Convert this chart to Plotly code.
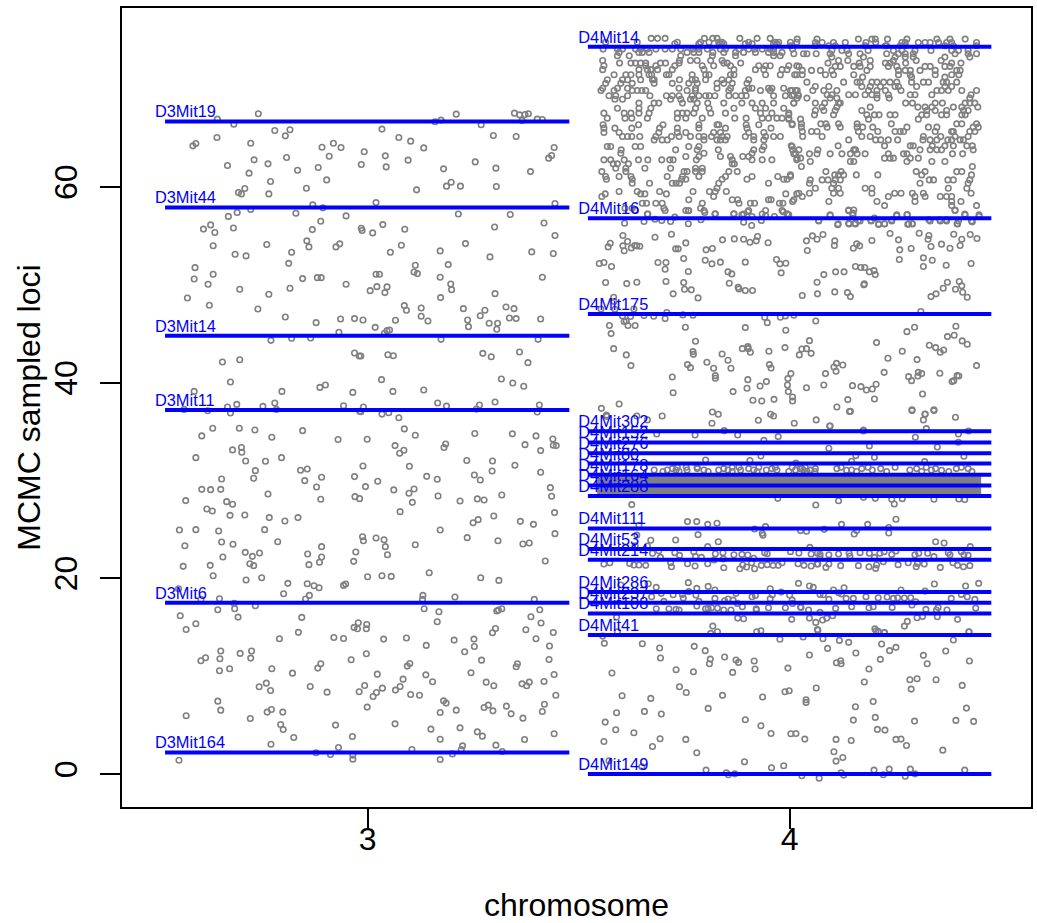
import plotly.graph_objects as go

chr3_markers = ["D3Mit164", "D3Mit6", "D3Mit11", "D3Mit14", "D3Mit44", "D3Mit19"]
chr3_marker_loci = [2.2, 17.5, 37.2, 44.8, 57.9, 66.7]
chr4_markers = ["D4Mit149", "D4Mit41", "D4Mit108", "D4Mit237", "D4Mit286", "D4Mit214", "D4Mit53", "D4Mit111",
                "D4Mit288", "D4Mit164", "D4Mit178", "D4Mit80", "D4Mit276", "D4Mit152", "D4Mit302", "D4Mit175",
                "D4Mit16", "D4Mit14"]
chr4_marker_loci = [0.0, 14.2, 16.4, 17.5, 18.6, 21.9, 23.0, 25.1, 28.42, 29.5, 30.6, 31.73, 32.8, 33.9, 35.04,
                    47.03, 56.8, 74.35]
chr3_span = [2.52, 3.478]
chr4_span = [3.522, 4.478]
label_start = {3: 2.496, 4: 3.499}
saturated_x = [3.544, 4.454]
saturated_y = [28.6, 30.45]

chr3_upper = [
(2.644,66.94),(2.741,67.49),(2.683,66.43),(2.780,65.78),(2.816,65.85),(2.805,65.23),(2.643,65.06),(2.593,64.45),(2.586,64.21),(2.723,64.48),
(2.892,64.07),(2.919,64.48),(2.937,64.04),(2.909,63.15),(2.808,63.02),(2.731,62.78),(2.668,62.2),(2.764,62.37),(2.883,62.0),(2.834,61.72),
(2.719,61.42),(2.770,60.56),(2.903,60.73),(2.855,59.88),(2.709,59.85),(2.694,59.44),(2.701,59.3),(2.766,59.3),(2.870,58.18),(2.894,57.87),
(2.723,57.7),(2.691,57.39),(2.830,57.32),(2.670,57.0),(2.949,57.05),(2.889,56.5),(2.628,56.13),(2.611,55.7),(2.682,55.82),(2.638,55.35),
(2.869,55.65),(2.856,54.5),(2.861,53.88),(2.934,54.19),(2.925,53.88),(2.634,54.0),(2.761,54.12),(2.820,53.33),(2.686,53.13),(2.712,52.96),
(2.813,52.2),(2.591,51.76),(2.634,51.08),(2.589,50.6),(2.622,50.06),(2.846,50.64),(2.881,50.74),(2.890,50.74),(2.949,50.06),(2.697,49.55),
(2.816,49.65),(2.766,49.04),(2.573,48.66),(2.625,47.91),(2.740,47.54),(2.805,46.72),(2.878,46.14),(2.936,46.51),(2.969,46.55),(2.932,45.15),
(2.771,44.33),(2.820,44.54),(2.865,44.57),(2.969,43.03),(2.980,42.73),(2.656,42.11),(2.697,42.35),(2.675,40.07),(2.797,39.11),(2.887,39.52),
(2.900,39.76),(2.589,39.11),(2.965,39.01),(2.668,37.51),(2.690,37.78),(2.752,37.58),(2.780,37.92),(2.943,37.65),(2.565,37.27),(2.621,37.14),
(2.675,36.9),(2.784,37.27),(2.981,37.07),
(3.210,67.45),(3.348,67.55),(3.360,67.38),(3.373,67.42),(3.381,67.49),(3.402,66.94),(3.414,66.9),(3.366,66.8),(3.160,66.67),(3.174,66.84),
(3.269,66.36),(3.034,65.92),(3.074,65.06),(3.102,64.69),(3.298,65.27),(3.352,65.17),(3.133,64.0),(3.442,64.04),(2.992,63.6),(3.042,63.19),
(3.436,63.22),(3.429,62.95),(3.096,62.75),(3.255,62.57),(2.985,62.3),(3.044,62.06),(3.180,61.86),(3.304,61.93),(3.386,61.58),(3.198,60.49),
(3.187,60.09),(3.220,60.09),(3.305,60.05),(3.116,59.71),(3.020,58.41),(3.444,58.31),(3.215,57.25),(3.338,57.19),(3.301,55.92),(3.418,56.33),
(3.036,56.16),(2.985,55.79),(2.987,55.55),(3.012,55.31),(3.088,55.69),(3.444,55.04),(3.080,54.05),(3.232,54.22),(3.054,53.33),(3.172,53.47),
(3.389,53.37),(3.440,53.2),(3.290,52.86),(3.191,52.07),(3.113,52.0),(3.110,51.32),(3.118,51.15),(3.020,51.08),(3.028,51.08),(3.172,50.78),
(3.414,50.78),(3.197,50.09),(3.199,49.51),(3.022,49.82),(3.046,49.79),(3.006,49.41),(3.041,49.21),(3.302,49.1),(3.173,48.7),(3.087,47.88),
(3.092,47.4),(3.127,47.64),(3.227,47.57),(3.328,47.74),(3.347,47.57),(3.278,47.4),(3.267,46.85),(3.127,46.79),(3.336,46.62),(3.352,46.55),
(3.410,46.51),(2.989,46.41),(3.066,46.38),(3.143,46.31),(3.237,46.41),(3.288,46.07),(3.308,46.07),(3.018,45.66),(3.239,45.73),(3.306,45.46),
(3.052,45.39),(3.046,45.32),(3.040,45.05),(3.174,44.43),(3.404,44.43),(2.984,42.73),(3.048,42.86),(3.061,42.76),(3.273,43.0),(3.293,42.66),
(3.360,43.14),(3.380,42.05),(3.033,40.31),(3.317,40.38),(3.344,39.97),(3.370,39.63),(3.060,39.11),(3.133,39.25),(3.166,37.92),(3.187,37.61),
(3.265,37.72),(3.302,38.02),(3.407,37.72),(2.990,37.51),(3.258,37.3),(2.984,37.03),(3.034,36.79),(3.050,36.93),(3.402,37.0),(3.074,36.42),
]
chr3_lower = [
(2.633,35.34),(2.696,35.34),(2.733,35.17),(2.846,35.1),(2.607,34.56),(2.773,34.42),(2.930,34.19),(2.999,34.22),(2.701,33.37),(2.680,33.13),
(2.702,32.89),(2.593,32.34),(2.796,32.34),(2.711,32.0),(2.758,31.97),(2.989,31.49),(2.734,31.01),(2.841,31.05),(2.857,31.18),(2.969,30.4),
(2.891,30.33),(2.654,30.16),(2.730,30.23),(2.851,29.99),(2.879,29.34),(2.995,29.38),(2.607,29.1),(2.628,29.07),(2.652,29.1),(2.764,28.63),
(2.970,28.35),(2.981,28.15),(2.889,28.08),(2.569,27.95),(2.666,27.84),(2.680,27.57),(2.619,27.09),(2.632,26.89),(2.674,26.44),(2.709,26.48),
(2.767,26.21),(2.804,25.86),(2.835,26.21),(2.554,24.94),(2.593,24.98),(2.647,24.84),(2.756,24.98),(2.988,24.26),(2.990,23.85),(2.787,23.75),
(2.654,23.72),(2.681,23.48),(2.567,23.34),(2.891,23.24),(2.972,22.69),(2.710,22.66),(2.744,22.59),(2.727,22.25),(2.657,22.18),(2.858,22.49),
(2.891,22.18),(2.886,21.64),(2.967,21.74),(2.721,21.5),(2.730,21.3),(2.627,21.33),(2.563,21.23),(2.861,21.4),(2.634,20.27),(2.749,20.07),
(3.000,20.17),(2.712,19.83),(2.811,19.49),(2.857,19.45),(2.873,19.25),(2.885,19.04),(2.948,19.42),(2.943,19.28),(2.552,18.94),(2.801,18.43),
(2.862,18.26),(2.853,17.89),(2.649,17.92),(2.605,17.85),(2.684,17.44),(2.734,17.2),(2.645,16.79),(2.685,16.9),(2.556,16.18),(2.693,16.04),
(2.844,16.01),(2.593,15.36),(2.978,15.46),(2.998,15.29),(2.968,14.99),(2.976,14.85),(2.997,14.85),(2.570,14.78),(2.836,14.48),(2.791,13.83),
(2.920,13.96),(2.943,13.86),(2.652,12.57),(2.725,12.57),(2.698,12.33),(2.997,12.29),(2.616,11.88),(2.723,11.85),(2.650,11.78),(2.605,11.58),
(2.961,11.68),(2.889,11.27),(2.882,10.83),(2.773,10.76),(2.673,10.76),(2.649,10.55),(2.822,10.31),(2.760,9.29),(2.743,8.92),(2.864,8.95),
(2.993,9.05),(2.770,8.54),(2.904,8.37),(2.980,8.41),(2.645,7.45),(2.999,6.84),(2.652,6.53),(2.772,6.6),(2.762,6.33),(2.799,6.33),
(2.570,5.95),(2.722,5.68),(2.794,5.06),(2.924,5.0),(2.800,4.55),(2.825,3.73),(2.964,3.84),(2.771,3.05),(2.931,2.71),(2.878,2.17),
(2.912,1.99),(2.965,1.93),(2.553,1.41),(2.965,1.52),
(3.087,35.28),(3.113,34.63),(3.254,34.8),(3.343,34.77),(3.399,34.56),(3.439,34.25),(3.065,33.57),(3.185,33.74),(3.181,33.37),(3.373,33.67),
(3.440,33.61),(3.447,33.57),(3.410,33.06),(3.086,33.09),(3.076,32.79),(3.235,32.04),(3.296,32.0),(3.099,31.46),(3.349,31.56),(3.295,30.98),
(3.410,30.84),(3.253,30.57),(3.140,30.43),(3.165,30.13),(3.267,30.06),(3.024,29.92),(3.433,29.27),(3.062,29.04),(3.110,29.14),(3.098,28.7),
(3.167,28.42),(3.318,28.52),(3.436,28.39),(3.260,28.12),(3.276,28.01),(3.219,27.91),(3.106,27.77),(3.077,26.82),(3.443,26.72),(3.299,26.38),
(3.362,25.83),(3.262,26.0),(3.250,25.69),(3.393,25.52),(3.172,24.94),(3.444,24.57),(3.236,24.16),(3.020,24.13),(3.039,23.95),(3.309,23.85),
(3.383,23.61),(3.368,23.51),(3.113,23.44),(3.042,23.24),(3.047,22.42),(3.421,21.77),(3.034,20.27),(3.056,20.2),(3.146,20.58),(3.268,20.07),
(3.311,19.79),(3.131,18.26),(3.130,17.85),(3.207,18.09),(3.395,17.85),(3.134,16.9),(3.169,16.59),(3.306,16.66),(3.310,16.76),(3.318,16.9),
(3.408,16.79),(3.387,16.08),(3.165,15.57),(3.411,15.43),(3.375,14.75),(3.303,14.88),(3.296,14.44),(3.440,14.47),(3.038,13.79),(3.092,13.9),
(3.205,13.69),(3.252,13.79),(3.399,13.83),(3.139,13.15),(3.253,13.04),(3.431,13.08),(3.230,12.5),(3.270,11.64),(3.430,11.71),(3.100,11.3),
(3.094,11.03),(3.355,11.27),(3.352,10.96),(3.245,10.35),(3.023,10.21),(3.442,10.18),(3.138,10.14),(3.084,9.7),(3.154,9.43),(3.281,9.39),
(3.418,9.46),(3.366,9.22),(3.383,9.39),(3.377,9.02),(3.299,9.02),(3.077,8.95),(3.035,8.78),(3.066,8.58),(3.021,8.34),(3.013,7.93),
(3.102,8.13),(3.123,8.06),(3.446,8.06),(3.180,7.48),(3.186,7.25),(3.419,7.14),(3.286,7.04),(3.329,6.94),(3.276,6.8),(3.210,6.53),
(3.297,6.46),(3.172,6.29),(3.414,6.39),(3.340,6.15),(3.368,5.71),(3.065,5.13),(3.219,4.72),(3.150,4.59),(3.260,4.31),(3.272,3.87),
(3.442,4.11),(3.172,3.56),(3.372,3.53),(3.225,2.88),(3.304,2.95),(3.222,2.5),(3.105,2.5),(3.319,2.3),(3.201,2.06),(3.172,1.48),
]
chr4_low = [
(3.561,13.36),(3.651,13.32),(3.692,12.88),(3.774,13.05),(3.800,12.61),(3.694,11.86),(3.812,11.75),(3.810,11.28),(3.846,11.96),(3.873,11.65),
(3.879,11.41),(3.916,11.55),(3.918,10.73),(3.996,10.83),(4.047,12.16),(4.090,12.84),(3.977,13.77),(4.032,14.0),(4.079,13.83),(4.118,13.66),
(4.140,13.46),(4.157,12.37),(4.111,11.38),(4.121,11.58),(4.122,11.28),(4.215,11.72),(4.218,13.29),(4.237,12.61),(4.252,12.95),(4.317,12.13),
(4.326,11.28),(4.370,12.57),(4.388,13.7),(4.426,11.55),(4.188,10.73),(3.579,10.32),(3.731,10.66),(3.772,10.46),(3.865,10.39),(4.177,9.4),
(4.285,9.64),(4.302,9.74),(4.347,9.64),(4.409,9.06),(4.288,8.68),(3.739,8.92),(3.755,8.34),(3.603,8.0),(3.671,7.73),(3.841,8.04),
(3.936,7.87),(3.989,8.41),(3.999,8.51),(4.063,8.79),(4.039,7.59),(4.039,7.32),(4.198,7.42),(4.156,6.88),(3.807,6.71),(3.590,6.26),
(3.656,6.4),(3.696,6.13),(4.419,6.74),(3.563,5.31),(3.895,5.55),(4.151,5.51),(4.203,5.79),(4.296,5.41),(4.394,5.48),(4.436,5.38),
(3.932,4.93),(3.588,4.52),(4.208,4.56),(4.226,4.49),(3.631,4.22),(3.956,4.15),(4.003,4.11),(4.015,4.15),(3.560,3.33),(3.693,3.6),
(3.754,3.54),(4.036,3.57),(4.110,3.54),(4.146,3.43),(4.252,3.54),(4.264,3.57),(4.277,2.92),(3.675,2.82),(4.363,2.44),(3.780,2.17),
(4.105,2.27),(4.126,1.69),(4.110,1.32),(3.893,1.25),(3.986,0.84),(3.957,0.64),(3.650,0.74),(3.572,1.35),(3.802,0.4),(4.200,0.4),
(4.236,0.5),(4.286,0.5),(4.415,0.4),(3.850,0.13),(3.855,-0.08),(3.870,0.02),(4.122,0.13),(4.128,-0.11),(4.222,-0.08),(4.274,-0.22),
(4.297,0.02),(4.029,-0.18),(4.070,-0.42),(3.557,14.1),(3.813,14.38),(3.829,14.55),(3.922,14.55),(3.932,14.65),(4.067,14.69),(4.205,14.65),
(4.225,14.45),(4.425,14.52),(3.592,14.55),
]
chr4_mid_left = [
(3.626,27.54),(4.062,27.5),(3.758,25.8),(3.780,25.8),(3.806,25.52),(3.828,25.63),(3.643,25.42),(3.917,25.05),(3.943,25.29),(4.026,24.88),
(4.040,24.81),(3.783,24.47),(3.638,24.43),(3.935,24.6),(3.937,24.4),(3.730,23.92),(3.671,23.89),(3.831,23.75),(3.663,23.31),(3.806,23.24),
(4.048,23.17),(3.634,23.34),(3.690,22.83),(3.728,22.63),(3.773,22.73),(3.941,22.63),(4.002,22.73),(4.022,22.59),(4.051,22.49),(3.675,22.56),
(3.739,22.35),(3.824,22.52),(3.842,22.63),(3.868,22.42),(3.887,22.45),(3.901,22.39),(3.947,22.52),(4.066,22.56),(3.694,22.15),(3.777,22.22),
(3.791,22.15),(3.821,21.88),(3.843,21.98),(3.915,22.05),(3.560,21.47),(3.574,21.6),(3.621,21.53),(3.631,21.36),(3.643,21.36),(3.659,21.33),
(3.718,21.6),(3.720,21.19),(3.758,21.5),(3.776,21.26),(3.806,21.5),(3.844,21.09),(3.882,20.99),(3.889,21.36),(3.898,21.16),(3.910,21.6),
(3.917,20.99),(3.933,21.33),(3.947,21.4),(3.961,21.33),(3.973,21.33),(3.982,21.6),(4.020,21.5),(4.034,21.33),(4.051,21.26),(4.065,21.47),
(3.600,19.32),(3.665,19.45),(3.760,19.56),(3.684,19.08),(3.807,19.18),(3.780,18.98),(3.954,18.94),(4.021,19.49),(4.047,19.22),(4.056,19.08),
(3.761,18.64),(3.823,18.81),(3.980,18.6),(3.696,18.47),(3.724,18.33),(3.673,18.12),(3.746,18.36),(3.778,18.3),(3.873,18.47),(3.911,18.12),
(3.919,18.26),(3.959,18.33),(4.0,18.3),(3.748,17.99),(3.823,17.95),(3.854,17.89),(3.866,17.78),(3.954,17.92),(4.006,17.78),(3.702,17.65),
(3.785,17.65),(3.846,17.71),(3.876,17.44),(4.007,17.44),(3.888,17.1),(3.780,17.17),(3.684,16.9),(3.714,16.9),(3.731,16.83),(3.738,16.76),
(3.801,16.9),(3.807,16.93),(3.815,17.0),(3.829,16.96),(3.844,16.76),(3.861,16.76),(3.921,16.9),(3.921,16.76),(3.950,17.0),(3.990,17.0),
(4.026,17.07),(4.045,16.76),(3.590,16.04),(3.877,15.94),(3.891,15.87),(4.005,15.81),(4.047,15.94),(4.062,15.5),(3.818,15.12),(4.066,14.78),
(3.801,32.1),(3.906,32.04),(3.932,32.5),(4.015,31.78),(3.972,28.18),(3.816,35.86),(3.926,36.16),(4.011,35.86),(4.063,36.2),(3.685,34.76),
(3.776,34.66),(3.877,34.66),(3.973,34.49),(3.845,35.1),(3.939,34.1),(3.955,36.78),(3.962,36.6),(3.698,36.6),(3.638,36.6),(3.663,36.2),
(3.566,36.7),(3.817,37.0),(3.831,36.78),
]
chr4_mid_right = [
(4.095,35.58),(4.142,37.05),(4.290,37.15),(4.321,36.78),(4.317,36.2),(4.342,37.15),(4.393,36.47),(4.175,35.07),(4.324,35.31),(4.424,35.07),
(4.400,34.76),(4.298,34.42),(4.400,33.91),(4.189,33.54),(4.350,33.43),(4.093,33.3),(4.157,32.55),(4.201,32.38),(4.413,32.48),(4.147,31.97),
(4.320,31.93),(4.116,27.94),(4.203,28.18),(4.242,28.08),(4.248,27.6),(4.267,28.15),(4.342,28.08),(4.401,28.11),(4.415,28.05),(4.175,28.29),
(4.252,26.04),(4.123,25.52),(4.185,25.52),(4.235,24.64),(4.153,24.53),(4.159,24.88),(4.082,25.01),(4.235,25.2),(4.346,23.75),(4.366,23.61),
(4.428,23.24),(4.072,22.49),(4.093,22.42),(4.116,22.49),(4.141,22.56),(4.167,22.63),(4.143,22.28),(4.189,22.56),(4.214,22.56),(4.224,22.73),
(4.242,22.45),(4.252,22.8),(4.297,22.42),(4.306,22.56),(4.327,22.56),(4.342,22.22),(4.376,22.63),(4.380,22.42),(4.407,22.73),(4.413,22.42),
(4.423,22.35),(4.072,22.28),(4.201,22.15),(4.222,21.7),(4.067,21.47),(4.093,21.47),(4.086,21.12),(4.121,21.3),(4.163,21.3),(4.188,21.19),
(4.204,21.02),(4.206,21.36),(4.257,21.4),(4.281,21.6),(4.300,21.19),(4.303,21.53),(4.319,21.47),(4.357,21.12),(4.387,21.6),(4.398,21.33),
(4.412,21.19),(4.427,21.3),(4.104,18.81),(4.129,19.04),(4.264,18.81),(4.321,18.7),(4.343,19.42),(4.417,19.22),(4.448,19.49),(4.072,18.36),
(4.080,18.33),(4.116,18.53),(4.123,18.4),(4.407,18.36),(4.093,17.85),(4.134,17.95),(4.151,17.95),(4.181,18.12),(4.210,18.02),(4.231,18.09),
(4.246,17.95),(4.256,18.02),(4.272,17.99),(4.287,18.02),(4.299,17.61),(4.383,17.95),(4.421,18.12),(4.439,17.85),(4.027,17.03),(4.109,16.93),
(4.147,17.1),(4.188,17.0),(4.198,17.1),(4.243,17.03),(4.290,17.27),(4.323,16.83),(4.352,17.03),(4.348,16.76),(4.373,16.76),(4.441,16.96),
(4.072,16.52),(4.078,15.74),(4.088,15.94),(4.102,16.18),(4.302,15.98),(4.315,16.11),(4.350,16.08),(4.398,15.81),(4.279,15.6),(4.272,15.12),
(4.202,14.85),(4.210,14.58),(4.224,14.44),(4.425,14.54),
]
chr4_upper_mid = [
(3.664,57.23),(3.705,57.6),(3.760,57.57),(3.799,57.4),(3.824,57.26),(3.868,57.26),(3.887,57.16),(3.901,57.47),(3.911,56.99),(3.943,57.09),
(3.964,56.99),(3.985,57.47),(3.995,57.23),(4.096,57.09),(4.140,57.57),(4.150,57.33),(4.201,56.82),(4.254,57.06),(4.279,57.19),(4.392,57.6),
(4.415,57.23),(4.449,56.99),(3.609,56.3),(3.655,56.48),(3.681,56.71),(3.697,56.58),(3.718,56.48),(3.728,56.92),(3.760,56.24),(3.790,56.65),
(3.891,56.41),(3.910,56.07),(3.933,56.58),(4.069,56.58),(4.114,56.14),(4.140,56.3),(4.155,56.3),(4.163,56.58),(4.193,56.58),(4.211,56.17),
(4.225,56.24),(4.242,56.65),(4.280,56.2),(4.290,56.24),(4.330,56.65),(4.356,56.65),(4.371,56.65),(4.397,56.24),(4.433,56.44),(3.605,55.04),
(3.681,54.87),(3.720,55.18),(3.841,54.6),(3.869,54.7),(3.891,54.67),(3.906,54.36),(3.921,54.5),(3.924,54.94),(3.949,54.3),(4.040,54.5),
(4.054,55.01),(4.065,54.67),(4.079,55.15),(4.107,54.5),(4.195,54.53),(4.238,55.25),(4.258,54.6),(4.307,55.28),(4.330,55.04),(4.328,54.67),
(4.389,55.18),(4.408,54.67),(4.428,55.15),(4.444,54.74),(3.575,54.26),(3.570,53.88),(3.616,54.43),(3.605,53.99),(3.608,53.48),(3.625,53.78),
(3.633,54.02),(3.645,53.95),(3.638,53.99),(3.754,54.29),(3.730,53.68),(3.736,53.68),(3.802,53.58),(3.817,53.71),(4.042,53.51),(4.106,54.02),
(4.151,53.75),(4.159,54.19),(4.166,53.99),(4.288,53.71),(4.261,53.58),(4.335,53.92),(4.360,54.16),(4.380,53.75),(4.404,54.02),(3.749,52.69),
(3.800,52.52),(3.816,52.15),(3.836,52.32),(3.895,52.32),(3.969,52.59),(3.977,52.15),(3.991,52.21),(4.260,52.59),(4.317,52.76),(4.338,52.52),
(4.317,51.87),(4.371,52.01),(4.430,52.18),(3.549,52.18),(3.560,52.28),(3.578,51.87),(3.688,52.28),(3.707,52.28),(3.705,51.6),(3.760,51.36),
(3.854,51.33),(3.863,51.12),(3.980,51.23),(4.081,51.05),(4.109,51.33),(4.129,51.33),(4.156,51.87),(4.169,51.77),(4.178,51.77),(4.189,51.33),
(4.200,51.46),(4.203,51.05),(3.564,50.24),(3.614,50.13),(3.638,50.27),(3.707,50.34),(3.749,50.24),(3.857,50.17),(4.065,50.27),(4.177,50.1),
(4.176,50.0),(4.402,50.34),(4.408,49.9),(4.374,50.27),(3.751,49.55),(3.767,49.49),(3.878,49.76),(3.880,49.59),(3.895,49.42),(3.912,49.42),
(4.364,49.66),(4.393,49.55),(4.410,49.25),(4.107,49.28),(4.137,49.21),(4.144,48.8),(4.066,49.08),(4.030,48.91),(3.724,49.08),(4.347,49.08),
(4.335,48.8),(4.421,48.74),(3.783,48.67),(3.583,48.74),(3.584,48.3),(3.631,47.54),(3.553,47.54),(3.586,47.51),(4.311,47.27),(3.709,47.17),
(3.604,46.83),(3.623,46.76),(3.655,46.86),(3.678,46.79),(3.705,46.55),(3.747,46.93),(3.771,46.89),(3.941,46.69),(3.978,46.69),(3.990,46.83),
(4.010,46.89),(3.608,46.25),(3.613,46.31),(4.062,46.31),(3.947,46.14),(3.573,45.84),(3.617,45.84),(3.634,45.84),(3.753,45.67),(3.895,45.63),
(3.991,45.36),(3.577,45.02),(4.296,45.67),(4.278,45.22),(4.394,45.77),(4.390,44.85),(4.374,44.71),(4.409,44.27),(4.421,43.93),(4.047,44.3),
(3.777,44.23),(4.206,44.1),(4.331,43.83),(4.346,43.59),(4.365,43.35),(4.357,43.11),(3.583,43.48),(3.613,42.84),(3.771,43.18),(3.772,42.9),
(3.888,43.48),(3.901,43.69),(3.902,43.48),(3.907,43.11),(3.951,43.21),(3.989,43.59),(4.029,43.45),(4.040,43.48),(4.051,43.0),(4.023,42.84),
(3.840,42.94),(3.854,42.29),(4.267,43.21),(4.233,42.5),(4.302,42.36),(3.804,42.09),(3.624,41.75),(3.758,41.85),(3.765,41.54),(3.820,41.47),
(3.861,41.47),(3.952,41.85),(3.956,41.51),(4.111,41.98),(4.105,41.61),(4.126,41.81),(4.110,41.17),(4.443,41.75),(4.224,41.06),(4.085,40.93),
(4.003,40.93),(4.305,41.06),(4.313,40.93),(4.356,40.96),(3.722,40.59),(3.824,40.72),(3.824,40.45),(3.996,40.42),(4.282,40.62),(4.304,40.69),
(4.289,40.21),(4.397,40.72),(4.401,40.69),(4.385,40.11),(4.389,40.21),(3.901,40.31),(3.945,40.11),(3.930,39.67),(3.995,39.77),(3.899,39.43),
(4.040,39.49),(4.081,39.77),(4.149,39.7),(4.169,39.6),(4.205,39.84),(4.196,39.36),(4.182,39.26),(3.997,39.09),(3.866,39.09),(3.724,38.98),
(4.315,38.85),(4.007,38.54),(4.007,38.13),(3.963,38.3),(3.913,38.2),(3.934,38.13),(4.138,38.27),(4.201,38.34),(3.596,37.82),(3.554,37.38),
(4.112,37.52),(4.144,37.07),(4.290,37.24),(4.342,37.24),(4.321,36.8),(3.567,36.56),(4.096,35.57),(4.175,35.17),
]
chr4_near_band = [
(31.08,[3.679,3.710,3.731,3.757,3.797,3.832,3.854,3.884,3.915,3.945,3.970,4.014,4.049,4.147,4.196,4.285,4.336]),
(30.92,[3.700,3.738,3.807,3.864,3.923,3.998,4.041,4.060,4.159,4.230,4.313,4.377,4.432]),
(31.22,[3.722,3.781,3.844,3.903,3.958,4.029,4.061,4.025,4.112,4.171,4.216,4.301,4.346,4.395,4.423]),
(31.35,[3.734,3.755,3.781,3.864,3.880,3.927,3.966,4.006,4.037,4.122,4.186,4.250,4.324,4.407]),
(31.05,[4.033,4.049,4.135,4.360]),
]
chr4_top_left = [
(75.2,[3.672,3.687,3.705,3.798,3.818,3.828,3.923,3.882,3.954]),
(74.8,[3.564,3.639,3.734,3.789,3.809,3.832,3.840,3.903,3.966,3.974,4.002,4.017]),
(74.65,[3.728,3.785,3.836,3.844,3.895,3.911,3.962,3.970]),
(74.1,[3.558,3.592,3.604,3.635,3.647,3.663,3.683,3.705,3.722,3.742,3.771,3.785,3.805,3.836,3.848,3.880,3.903,3.917,3.935,3.954,3.962,4.007]),
(73.76,[3.596,3.643,3.651,3.667,3.757,3.773,3.785,3.818,3.844,3.872,3.891,3.919,3.950,3.962,3.982]),
(73.42,[3.592,3.620,3.742,3.817,3.872,3.962,3.978]),
(72.94,[3.557,3.739,3.765,3.781,3.813,3.840]),
(72.67,[3.597,3.624,3.635,3.647,3.659,3.694,3.706,3.738,3.844,3.884,3.852]),
(72.4,[3.560,3.659,3.683,3.728,3.793,3.820,3.860,3.927,3.943,3.954,3.998,4.017]),
(72.0,[3.557,3.643,3.663,3.671,3.687,3.722,3.797,3.868,3.919,3.939,3.994,3.982]),
(71.47,[3.584,3.612,3.624,3.643,3.667,3.673,3.708,3.714,3.769,3.801,3.809,3.860,3.868,3.943,3.978,4.017]),
(70.96,[3.568,3.604,3.616,3.647,3.675,3.679,3.739,3.801,3.840,3.856,3.903,3.769,3.777]),
(70.6,[3.564,3.600,3.627,3.679,3.722,3.761,3.781,3.828,3.844,3.864,3.899]),
(70.1,[3.557,3.592,3.616,3.738,3.777,3.828,3.860,3.903,3.911,3.986,3.950,3.958]),
(69.87,[3.553,3.584,3.627,3.639,3.650,3.659,3.757,3.777,3.856,3.895,3.931,3.954,4.002,4.014]),
(69.33,[3.572,3.588,3.616,3.669,3.708,3.722,3.738,3.769,3.785,3.801,3.810,3.823,3.856,3.872,3.886,3.897,3.962,3.990,4.006,4.021]),
(68.98,[3.586,3.604,3.718,3.742,3.765,3.773]),
(68.58,[3.643,3.690,3.679,3.746,3.781,3.806,3.844,3.887,3.911,3.935,3.962,4.010]),
(68.06,[3.592,3.643,3.671,3.777,3.809,3.868,3.919,3.943,3.986]),
(67.55,[3.560,3.608,3.624,3.643,3.667,3.734,3.746,3.757,3.773,3.813,3.848,3.931,3.998,3.958]),
(67.04,[3.568,3.610,3.626,3.663,3.734,3.754,3.793,3.870,3.897,3.935,3.950,3.970,3.982,3.998]),
(66.36,[3.558,3.642,3.700,3.785,3.828,3.832,3.927,3.897,4.006]),
(66.02,[3.560,3.586,3.626,3.692,3.734,3.785,3.899,3.956,3.848]),
(65.57,[3.560,3.596,3.690,3.734,3.754,3.820,3.836,3.903,3.939]),
(65.17,[3.604,3.616,3.626,3.645,3.683,3.720,3.738,3.765,3.785,3.797,3.815,3.840,3.852,3.895,3.915,3.943,3.962,3.978]),
(64.82,[3.679,3.698,3.710,3.797,3.836,3.915,3.939,3.848,3.828]),
(64.14,[3.568,3.576,3.634,3.647,3.761,3.785,4.006,3.939]),
(63.8,[3.601,3.730,3.781,3.831,3.935,3.915,4.007]),
(63.46,[3.600,3.797,3.911,4.014]),
(63.12,[3.785,3.754,3.860,3.889,3.903,3.836]),
(62.78,[3.560,3.576,3.608,3.642,3.664,3.697,3.716,3.724,3.779,3.935,3.958,4.017,3.911,3.864]),
(62.37,[3.582,3.592,3.618,3.864,3.869]),
(61.92,[3.588,3.612,3.657,3.777,3.793,3.718]),
(61.58,[3.555,3.750,3.757,3.777,3.793,3.612,3.876,3.856]),
(61.07,[3.564,3.596,3.624,3.710,3.746,3.785,3.848,3.911,3.972,4.002]),
(60.8,[3.566,3.627,3.744,3.754,3.840,3.899,3.994,3.986]),
(60.39,[3.627,3.668,3.722,3.731,3.739,3.832,3.950]),
(59.88,[3.828]),
(59.54,[3.596,3.639,3.692,3.771,3.810,3.824,3.850]),
(59.3,[3.563,3.647,3.657,3.708,3.991,4.017]),
(59.03,[3.555,3.820]),
(58.7,[3.761,3.864,3.950,3.956,4.010,3.877]),
(58.34,[3.651,3.661,3.683,3.698,3.793,3.880,3.907,3.917,3.976,3.984]),
(57.83,[3.610,3.627,3.702,3.789]),
(57.6,[3.635,3.754,3.761,3.797,3.903,3.943,3.982]),
(57.25,[3.663,3.823,3.868,3.891,3.935,3.994]),
]
chr4_top_right = [
(75.12,[4.018,4.065,4.163,4.195,4.203,4.232,4.278,4.349,4.380,4.416]),
(74.78,[4.061,4.077,4.104,4.132,4.181,4.204,4.266,4.274,4.305,4.321,4.333,4.353,4.372,4.384,4.443]),
(74.44,[4.002,4.061,4.093,4.108,4.179,4.230,4.227,4.262,4.274,4.368,4.388,4.443]),
(73.96,[4.100,4.124,4.136,4.186,4.246,4.266,4.297,4.335,4.384,4.400,4.423]),
(73.62,[4.010,4.033,4.041,4.063,4.096,4.140,4.167,4.230,4.258,4.274,4.293,4.392,4.443,4.423]),
(73.28,[4.100,4.175,4.250,4.293,4.274,4.368,4.427]),
(72.94,[4.116,4.138,4.191,4.246,4.300,4.359]),
(72.67,[4.091,4.165,4.227,4.238,4.275,4.384,4.406]),
(72.33,[4.022,4.108,4.120,4.152,4.167,4.191,4.234,4.254,4.321,4.333,4.380,4.368]),
(71.92,[4.030,4.052,4.073,4.100,4.183,4.258,4.274,4.286,4.309,4.345,4.396,4.404]),
(71.47,[4.012,4.030,4.085,4.104,4.152,4.258,4.286,4.345,4.384,4.401]),
(71.23,[4.173,4.289,4.368]),
(70.72,[4.041,4.128,4.160,4.167,4.195,4.207,4.223,4.238,4.254,4.289,4.317,4.329,4.364,4.372,4.396]),
(70.28,[4.061,4.093,4.171,4.191,4.215,4.250,4.258,4.301,4.368,4.384]),
(69.87,[4.006,4.018,4.055,4.081,4.112,4.187,4.207,4.227,4.264,4.349,4.360,4.408,4.443,4.376]),
(69.43,[4.010,4.020,4.089,4.100,4.140,4.156,4.179,4.195,4.207,4.234,4.286,4.297,4.337,4.430]),
(69.09,[4.018,4.041,4.096,4.112,4.207,4.236,4.427]),
(68.58,[4.010,4.061,4.083,4.116,4.120,4.275,4.291,4.345,4.362,4.416,4.427,4.439]),
(68.17,[4.077,4.112,4.191,4.304,4.321,4.337,4.388,4.408,4.446]),
(67.82,[4.061,4.081,4.108,4.171,4.325,4.345,4.372,4.412,4.423]),
(67.38,[3.998,4.059,4.104,4.183,4.201,4.212,4.238,4.250,4.313,4.325,4.360,4.372,4.408,4.416]),
(66.94,[3.998,4.026,4.187,4.305]),
(66.46,[4.006,4.028,4.074,4.086,4.116,4.160,4.241,4.396,4.408,4.443]),
(66.12,[4.028,4.089,4.120,4.160,4.173,4.197,4.278,4.329,4.349,4.435,4.447]),
(65.68,[4.030,4.052,4.065,4.163,4.209,4.250,4.262,4.270,4.345,4.384,4.388,4.427,4.439]),
(65.17,[4.031,4.077,4.191,4.171,4.317,4.358,4.392,4.423]),
(64.82,[4.140,4.204,4.216,4.234,4.256,4.316,4.333,4.349,4.375,4.384,4.404,4.412]),
(64.21,[4.004,4.115,4.225,4.286,4.293,4.338,4.368,4.388,4.420,4.433]),
(63.8,[4.022,4.067,4.152,4.156,4.309,4.333,4.349,4.360,4.435]),
(63.39,[4.010,4.047,4.065,4.096,4.124,4.144,4.160,4.179,4.234,4.278,4.270,4.386,4.410]),
(62.95,[4.018,4.026,4.225,4.238,4.246,4.286,4.305]),
(62.61,[4.049,4.144,4.152,4.278,4.337,4.368]),
(62.1,[4.028,4.433]),
(61.58,[4.086,4.122,4.300,4.321,4.408,4.396]),
(61.24,[4.002,4.116,4.128,4.107,4.158,4.209,4.313,4.431]),
(60.73,[4.049,4.077,4.091,4.120,4.341,4.331,4.427,4.375,4.388,4.108]),
(60.39,[4.047,4.104,4.309,4.423]),
(59.88,[4.061,4.100,4.116,4.179,4.195,4.376,4.420]),
(59.37,[4.022,4.047,4.104,4.120,4.249,4.264,4.291,4.317,4.430,4.195]),
(59.03,[4.030,4.234,4.297,4.321,4.357,4.372,4.384]),
(58.52,[4.007,4.093,4.207,4.297,4.406,4.384]),
(58.1,[4.225,4.384,4.443]),
(57.66,[4.140,4.152,4.392]),
(57.15,[3.998,4.096,4.150,4.254,4.278,4.416,4.449]),
(56.54,[4.069,4.167,4.193,4.242,4.333,4.357,4.372,4.400,4.431]),
(56.23,[4.115,4.141,4.156,4.211,4.225,4.282,4.291,4.398]),
]

pairs = chr3_upper + chr3_lower + chr4_low + chr4_mid_left + chr4_mid_right + chr4_upper_mid
for rows in (chr4_near_band, chr4_top_left, chr4_top_right):
    for locus, xs in rows:
        pairs += [(x, locus) for x in xs]
point_x = [p[0] for p in pairs]
point_y = [p[1] for p in pairs]

GRAY = "#808080"
BLUE = "#0000FF"
FONT = "Liberation Sans, Arial, sans-serif"

fig = go.Figure()
fig.add_trace(go.Scatter(x=point_x, y=point_y, mode="markers",
                         marker=dict(symbol="circle-open", size=5.5, color=GRAY, line=dict(width=1.6, color=GRAY)),
                         hoverinfo="skip"))
fig.add_trace(go.Scatter(x=[saturated_x[0], saturated_x[1], saturated_x[1], saturated_x[0], saturated_x[0]],
                         y=[saturated_y[0], saturated_y[0], saturated_y[1], saturated_y[1], saturated_y[0]],
                         mode="none", fill="toself", fillcolor=GRAY, hoverinfo="skip"))
for span, loci in ((chr3_span, chr3_marker_loci), (chr4_span, chr4_marker_loci)):
    for v in loci:
        fig.add_trace(go.Scatter(x=span, y=[v, v], mode="lines", line=dict(color=BLUE, width=4), hoverinfo="skip"))
for chrom, names, loci in ((3, chr3_markers, chr3_marker_loci), (4, chr4_markers, chr4_marker_loci)):
    fig.add_trace(go.Scatter(x=[label_start[chrom]] * len(names), y=loci, text=names, mode="text",
                             textposition="top right", textfont=dict(family=FONT, size=16.4, color=BLUE),
                             hoverinfo="skip"))

axis_common = dict(showgrid=False, zeroline=False, showline=True, mirror=True, linecolor="black", linewidth=1.5,
                   ticks="outside", ticklen=20, tickwidth=1.5, tickcolor="black",
                   tickfont=dict(family=FONT, size=32, color="black"))
title_font = dict(family=FONT, size=32, color="black")
fig.update_layout(
    width=1037, height=923, showlegend=False, plot_bgcolor="white", paper_bgcolor="white",
    margin=dict(l=122, r=4, t=8, b=116),
    xaxis=dict(range=[2.418, 4.572], tickvals=[3, 4], ticktext=["3", "4"], ticklabelstandoff=-17, **axis_common),
    yaxis=dict(range=[-3.37, 78.3], tickvals=[0, 20, 40, 60], ticktext=["0", "20", "40", "60"], tickangle=-90,
               ticklabelstandoff=10, **axis_common),
    annotations=[
        dict(text="chromosome", xref="paper", yref="paper", x=0.5, y=-0.1227, xanchor="center", yanchor="middle",
             showarrow=False, font=title_font),
        dict(text="MCMC sampled loci", xref="paper", yref="paper", x=-0.1032, y=0.5, xanchor="center", yanchor="middle",
             textangle=-90, showarrow=False, font=title_font),
    ],
)
fig.write_html("out.html", config={"displayModeBar": False}, post_script="document.body.style.margin='0';")
